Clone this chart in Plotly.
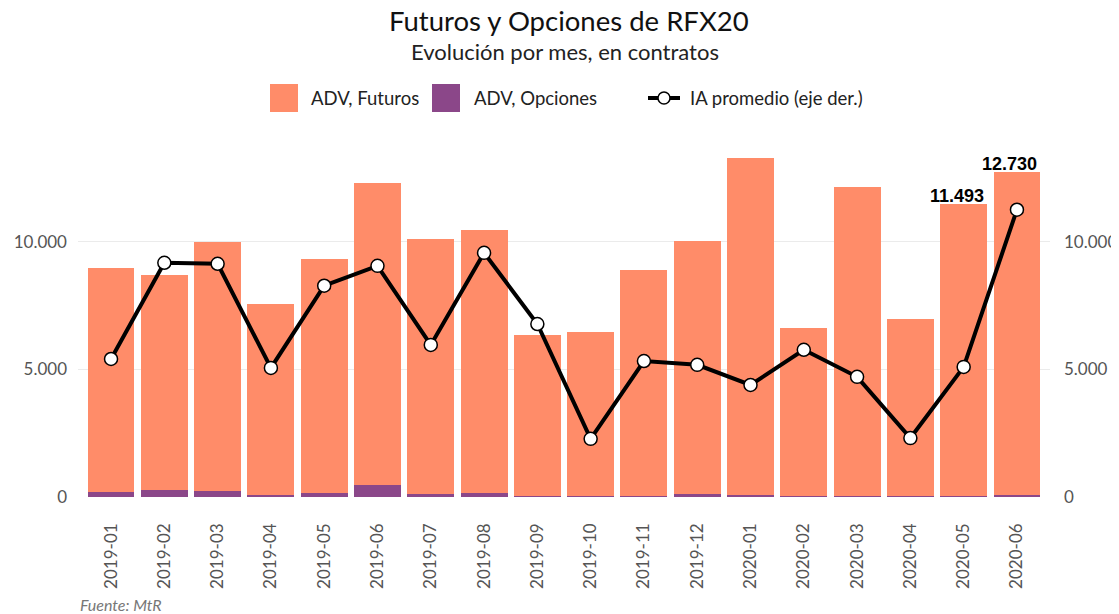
import plotly.graph_objects as go

meses = ["2019-01", "2019-02", "2019-03", "2019-04", "2019-05", "2019-06",
         "2019-07", "2019-08", "2019-09", "2019-10", "2019-11", "2019-12",
         "2020-01", "2020-02", "2020-03", "2020-04", "2020-05", "2020-06"]
adv_total = [8980, 8710, 10000, 7570, 9330, 12310, 10120, 10470, 6350, 6470,
             8900, 10040, 13290, 6630, 12160, 6980, 11493, 12730]
adv_opciones = [200, 270, 235, 90, 140, 470, 130, 140, 50, 30,
                30, 100, 70, 30, 40, 40, 40, 80]
adv_futuros = [t - o for t, o in zip(adv_total, adv_opciones)]
ia_promedio = [5410, 9180, 9140, 5060, 8280, 9060, 5960, 9570, 6780, 2280,
               5330, 5180, 4390, 5770, 4710, 2310, 5100, 11260]
etiquetas_idx = [16, 17]

C_FUT = "#FF8C69"
C_OPC = "#8B4789"
FONT = "Lato, 'Open Sans', sans-serif"
GRAY = "#555555"

# page body has an 8px margin: work in screen pixels and subtract it
OFF = 8
W, H = 1119 - OFF, 614 - OFF

fig = go.Figure()
fig.add_bar(x=meses, y=adv_opciones, marker_color=C_OPC, name="ADV, Opciones",
            showlegend=False, marker_line_width=0)
fig.add_bar(x=meses, y=adv_futuros, marker_color=C_FUT, name="ADV, Futuros",
            showlegend=False, marker_line_width=0)
fig.add_scatter(x=meses, y=ia_promedio, yaxis="y2", mode="lines+markers",
                line=dict(color="black", width=4),
                marker=dict(size=13, color="white", line=dict(color="black", width=1.5)),
                name="IA promedio (eje der.)", showlegend=False)

annotations = []
for i in etiquetas_idx:
    annotations.append(dict(x=meses[i], y=adv_total[i], xref="x", yref="y",
                            text=f"{adv_total[i]:,}".replace(",", "."),
                            showarrow=False, yanchor="bottom", xshift=-7, yshift=-4,
                            font=dict(family="Liberation Sans, Arial", size=18,
                                      color="black", weight="bold")))

# plot area in screen pixels
L, R, T, B = 78, 1050, 150, 497
def fx(p):
    return (p - L) / (R - L)
def fy(p):
    return (B - p) / (B - T)

fig.update_layout(
    width=W, height=H,
    margin=dict(l=L - OFF, r=1119 - R, t=T - OFF, b=614 - B, autoexpand=False),
    plot_bgcolor="white", paper_bgcolor="white",
    barmode="stack", bargap=0.12,
    separators=",.",
    showlegend=False,
    font=dict(family=FONT, color=GRAY),
    xaxis=dict(type="category", range=[-0.62, 17.62], tickangle=-90, showgrid=False,
               showline=False, automargin=False,
               tickfont=dict(size=17, color=GRAY), ticks="", ticklabelstandoff=22),
    yaxis=dict(range=[0, 13600], tickvals=[0, 5000, 10000], showgrid=True,
               gridcolor="#EBEBEB", gridwidth=1, zeroline=False, showline=False,
               automargin=False,
               tickfont=dict(size=17, color=GRAY), ticklabelstandoff=10, tickformat=",d"),
    yaxis2=dict(range=[0, 13600], tickvals=[0, 5000, 10000], overlaying="y", side="right",
                showgrid=False, zeroline=False, showline=False, automargin=False,
                tickfont=dict(size=17, color=GRAY), ticklabelstandoff=13, tickformat=",d"),
)

annotations += [
    dict(x=fx(569), y=fy(20), xref="paper", yref="paper", text="Futuros y Opciones de RFX20",
         showarrow=False, font=dict(size=27.5, color="#111111", family=FONT), xanchor="center", yanchor="middle"),
    dict(x=fx(565), y=fy(52), xref="paper", yref="paper", text="Evolución por mes, en contratos",
         showarrow=False, font=dict(size=22, color="#222222", family=FONT), xanchor="center", yanchor="middle"),
    dict(x=fx(78), y=fy(604), xref="paper", yref="paper", text="<i>Fuente: MtR</i>",
         showarrow=False, font=dict(size=16, color="#777777", family=FONT), xanchor="left", yanchor="middle"),
    dict(x=fx(309), y=fy(98), xref="paper", yref="paper", text="ADV, Futuros",
         showarrow=False, font=dict(size=18.5, color="#222222", family=FONT), xanchor="left", yanchor="middle"),
    dict(x=fx(472), y=fy(98), xref="paper", yref="paper", text="ADV, Opciones",
         showarrow=False, font=dict(size=18.5, color="#222222", family=FONT), xanchor="left", yanchor="middle"),
    dict(x=fx(688), y=fy(98), xref="paper", yref="paper", text="IA promedio (eje der.)",
         showarrow=False, font=dict(size=18.5, color="#222222", family=FONT), xanchor="left", yanchor="middle"),
]

shapes = [
    dict(type="rect", xref="paper", yref="paper", x0=fx(270), x1=fx(298), y0=fy(112), y1=fy(84),
         fillcolor=C_FUT, line_width=0),
    dict(type="rect", xref="paper", yref="paper", x0=fx(432), x1=fx(460), y0=fy(112), y1=fy(84),
         fillcolor=C_OPC, line_width=0),
    dict(type="line", xref="paper", yref="paper", x0=fx(648), x1=fx(680), y0=fy(98), y1=fy(98),
         line=dict(color="black", width=4)),
    dict(type="circle", xref="paper", yref="paper", x0=fx(658), x1=fx(670), y0=fy(104), y1=fy(92),
         fillcolor="white", line=dict(color="black", width=1.5)),
]

fig.update_layout(annotations=annotations, shapes=shapes)
fig.write_html("out.html")
